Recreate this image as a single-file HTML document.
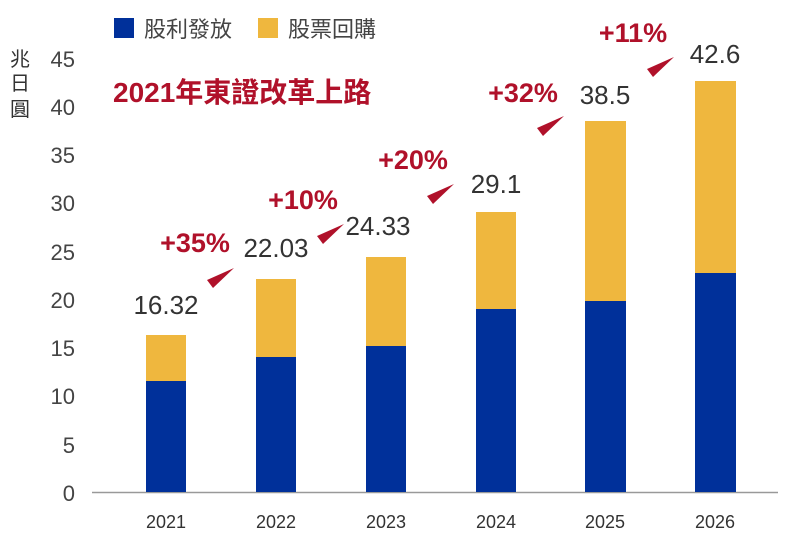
<!DOCTYPE html>
<html><head><meta charset="utf-8"><style>
html,body{margin:0;padding:0;background:#fff;}
svg{display:block;}
text{font-family:"Liberation Sans","Noto Sans CJK TC",sans-serif;}
</style></head><body>
<svg width="800" height="548" viewBox="0 0 800 548" xmlns="http://www.w3.org/2000/svg">
<rect x="114" y="18" width="20" height="20" fill="#00309a"/>
<text x="144" y="37" font-size="22" fill="#444">股利發放</text>
<rect x="258" y="18" width="20" height="20" fill="#efb73e"/>
<text x="288" y="37" font-size="22" fill="#444">股票回購</text>
<text x="20" y="66" font-size="20" fill="#333" text-anchor="middle">兆</text>
<text x="20" y="90" font-size="20" fill="#333" text-anchor="middle">日</text>
<text x="20" y="116" font-size="20" fill="#333" text-anchor="middle">圓</text>
<g font-size="22" fill="#444" text-anchor="end">
<text x="75" y="67">45</text><text x="75" y="115">40</text><text x="75" y="163">35</text>
<text x="75" y="211">30</text><text x="75" y="260">25</text><text x="75" y="308">20</text>
<text x="75" y="356">15</text><text x="75" y="404">10</text><text x="75" y="453">5</text>
<text x="75" y="501">0</text>
</g>
<line x1="92" y1="492.5" x2="778" y2="492.5" stroke="#999" stroke-width="1.5"/>
<text x="113" y="102" font-size="28" font-weight="bold" fill="#b0112a">2021年東證改革上路</text>
<g>
<rect x="146" y="335" width="40" height="46" fill="#efb73e"/><rect x="146" y="381" width="40" height="111" fill="#00309a"/>
<rect x="256" y="279" width="40" height="78" fill="#efb73e"/><rect x="256" y="357" width="40" height="135" fill="#00309a"/>
<rect x="366" y="257" width="40" height="89" fill="#efb73e"/><rect x="366" y="346" width="40" height="146" fill="#00309a"/>
<rect x="476" y="212" width="40" height="97" fill="#efb73e"/><rect x="476" y="309" width="40" height="183" fill="#00309a"/>
<rect x="585" y="121" width="41" height="180" fill="#efb73e"/><rect x="585" y="301" width="41" height="191" fill="#00309a"/>
<rect x="695" y="81" width="41" height="192" fill="#efb73e"/><rect x="695" y="273" width="41" height="219" fill="#00309a"/>
</g>
<g font-size="18" fill="#333" text-anchor="middle">
<text x="166" y="528">2021</text><text x="276" y="528">2022</text><text x="386" y="528">2023</text>
<text x="496" y="528">2024</text><text x="605" y="528">2025</text><text x="715" y="528">2026</text>
</g>
<g font-size="26" fill="#333" text-anchor="middle">
<text x="166" y="314">16.32</text><text x="276" y="257">22.03</text><text x="378" y="235">24.33</text>
<text x="496" y="193">29.1</text><text x="605" y="104">38.5</text><text x="715" y="63">42.6</text>
</g>
<g font-size="27" font-weight="bold" fill="#b0112a" text-anchor="middle">
<text x="195" y="252">+35%</text><text x="303" y="209">+10%</text><text x="413" y="169">+20%</text>
<text x="523" y="102">+32%</text><text x="633" y="42">+11%</text>
</g>
<g fill="#b0112a">
<polygon points="207,280 213,288 234,268"/>
<polygon points="317,236 323,244 344,224"/>
<polygon points="427,196 433,204 454,184"/>
<polygon points="537,128 543,136 564,116"/>
<polygon points="647,69 653,77 674,57"/>
</g>
</svg>
</body></html>
